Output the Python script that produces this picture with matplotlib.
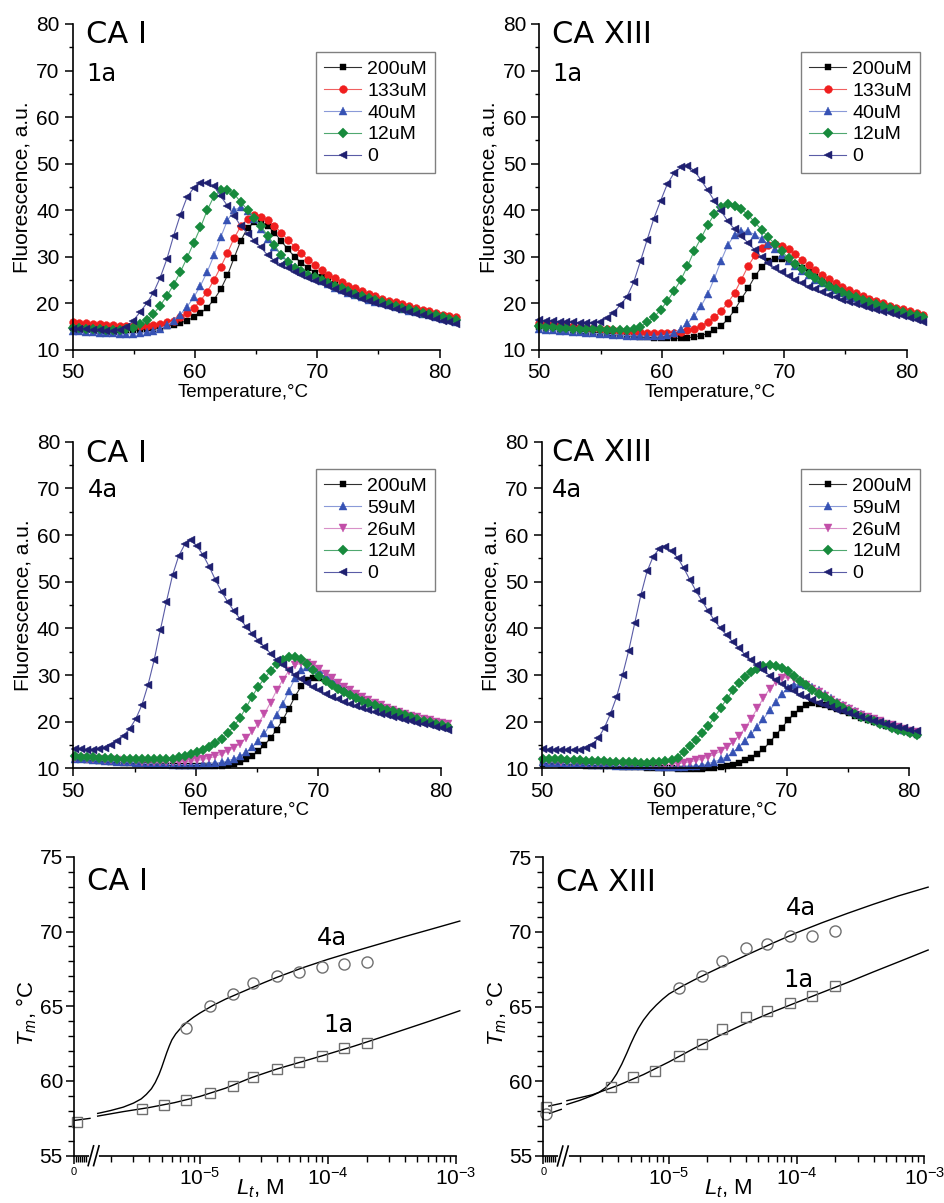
import matplotlib
matplotlib.use('Agg')
import matplotlib.pyplot as plt
import numpy as np
from matplotlib.ticker import FixedLocator, FixedFormatter, MultipleLocator, NullFormatter

plt.rcParams['font.family'] = ['Liberation Sans', 'DejaVu Sans']
plt.rcParams['mathtext.fontset'] = 'custom'
plt.rcParams['mathtext.rm'] = 'Liberation Sans'
plt.rcParams['mathtext.it'] = 'Liberation Sans:italic'

# ---------------- melting curves: temperature grids ----------------
temp_1a = [50.0, 50.55, 51.1, 51.65, 52.2, 52.75, 53.3, 53.85, 54.4, 54.95,
           55.5, 56.05, 56.6, 57.15, 57.7, 58.25, 58.8, 59.35, 59.9, 60.45,
           61.0, 61.55, 62.1, 62.65, 63.2, 63.75, 64.3, 64.85, 65.4, 65.95,
           66.5, 67.05, 67.6, 68.15, 68.7, 69.25, 69.8, 70.35, 70.9, 71.45,
           72.0, 72.55, 73.1, 73.65, 74.2, 74.75, 75.3, 75.85, 76.4, 76.95,
           77.5, 78.05, 78.6, 79.15, 79.7, 80.25, 80.8, 81.35]
temp_4a = [50.1, 50.6, 51.1, 51.6, 52.1, 52.6, 53.1, 53.6, 54.1, 54.6,
           55.1, 55.6, 56.1, 56.6, 57.1, 57.6, 58.1, 58.6, 59.1, 59.6,
           60.1, 60.6, 61.1, 61.6, 62.1, 62.6, 63.1, 63.6, 64.1, 64.6,
           65.1, 65.6, 66.1, 66.6, 67.1, 67.6, 68.1, 68.6, 69.1, 69.6,
           70.1, 70.6, 71.1, 71.6, 72.1, 72.6, 73.1, 73.6, 74.1, 74.6,
           75.1, 75.6, 76.1, 76.6, 77.1, 77.6, 78.1, 78.6, 79.1, 79.6,
           80.1, 80.6]

labels_1a = ['200uM', '133uM', '40uM', '12uM', '0']
labels_4a = ['200uM', '59uM', '26uM', '12uM', '0']

# CA I, compound 1a
ca1_1a_200 = [14.7, 14.6, 14.5, 14.4, 14.3, 14.3, 14.2, 14.2, 14.2, 14.2,
              14.3, 14.4, 14.6, 14.8, 15.1, 15.4, 15.8, 16.3, 17.0, 17.9,
              19.1, 20.8, 23.0, 26.0, 29.8, 33.5, 36.2, 37.4, 37.5, 36.6,
              35.2, 33.4, 31.6, 30.0, 28.7, 27.6, 26.6, 25.7, 24.9, 24.2,
              23.6, 23.0, 22.4, 21.9, 21.4, 20.9, 20.5, 20.1, 19.7, 19.3,
              18.9, 18.6, 18.2, 17.9, 17.6, 17.3, 17.0, 16.7]
ca1_1a_133 = [15.9, 15.8, 15.7, 15.6, 15.5, 15.4, 15.3, 15.2, 15.1, 15.1,
              15.1, 15.2, 15.4, 15.6, 15.9, 16.3, 17.0, 17.9, 19.0, 20.6,
              22.5, 25.0, 27.8, 30.8, 34.0, 36.6, 38.2, 38.9, 38.6, 37.8,
              36.7, 35.2, 33.6, 32.2, 30.8, 29.4, 28.2, 27.1, 26.2, 25.4,
              24.5, 23.8, 23.2, 22.6, 22.0, 21.5, 21.0, 20.6, 20.2, 19.8,
              19.4, 19.0, 18.6, 18.3, 17.9, 17.6, 17.3, 17.0]
ca1_1a_40 = [14.1, 14.0, 13.9, 13.8, 13.7, 13.6, 13.6, 13.5, 13.5, 13.5,
             13.6, 13.8, 14.1, 14.6, 15.3, 16.3, 17.6, 19.3, 21.3, 23.8,
             26.8, 30.3, 34.2, 37.8, 40.0, 40.7, 39.9, 38.1, 36.0, 33.9,
             32.0, 30.4, 29.0, 27.9, 27.0, 26.2, 25.5, 24.8, 24.1, 23.4,
             22.8, 22.3, 21.8, 21.3, 20.8, 20.4, 20.0, 19.6, 19.2, 18.8,
             18.4, 18.1, 17.7, 17.4, 17.0, 16.7, 16.4, 16.0]
ca1_1a_12 = [14.8, 14.7, 14.6, 14.5, 14.4, 14.3, 14.3, 14.3, 14.4, 14.8,
             15.5, 16.4, 17.7, 19.5, 21.6, 24.0, 26.7, 29.8, 33.0, 36.3,
             40.0, 43.0, 44.3, 44.4, 43.5, 41.7, 40.1, 38.4, 36.6, 34.5,
             32.5, 30.4, 28.8, 27.7, 26.9, 26.2, 25.6, 25.0, 24.4, 23.8,
             23.3, 22.7, 22.1, 21.6, 21.1, 20.7, 20.3, 19.9, 19.5, 19.1,
             18.7, 18.4, 18.0, 17.7, 17.4, 17.0, 16.7, 16.4]
ca1_1a_0 = [14.6, 14.5, 14.4, 14.3, 14.2, 14.1, 14.1, 14.3, 14.9, 16.3,
            18.1, 20.0, 22.3, 25.5, 29.5, 34.5, 39.0, 42.8, 44.8, 45.8,
            45.9, 45.2, 43.0, 41.0, 38.8, 36.6, 35.0, 33.5, 32.0, 30.3,
            29.2, 28.3, 27.5, 26.8, 26.1, 25.5, 24.9, 24.3, 23.7, 23.1,
            22.5, 22.0, 21.5, 21.0, 20.5, 20.1, 19.7, 19.3, 18.9, 18.5,
            18.1, 17.8, 17.4, 17.0, 16.7, 16.3, 16.0, 15.6]

# CA XIII, compound 1a
ca13_1a_200 = [15.0, 14.8, 14.7, 14.5, 14.4, 14.2, 14.1, 13.9, 13.8, 13.6,
               13.5, 13.3, 13.2, 13.1, 12.9, 12.8, 12.7, 12.6, 12.5, 12.5,
               12.5, 12.5, 12.6, 12.8, 13.1, 13.5, 14.2, 15.2, 16.6, 18.6,
               21.0, 23.2, 25.8, 27.8, 29.0, 29.6, 29.5, 29.1, 28.4, 27.6,
               26.8, 26.0, 25.2, 24.4, 23.7, 23.0, 22.4, 21.8, 21.2, 20.7,
               20.2, 19.7, 19.3, 18.8, 18.4, 18.0, 17.6, 17.2]
ca13_1a_133 = [15.7, 15.6, 15.5, 15.4, 15.2, 15.1, 15.0, 14.8, 14.7, 14.6,
               14.4, 14.3, 14.1, 14.0, 13.9, 13.8, 13.7, 13.6, 13.6, 13.6,
               13.7, 13.9, 14.2, 14.6, 15.2, 16.0, 17.0, 18.4, 20.1, 22.3,
               25.1, 28.0, 30.3, 31.8, 32.5, 32.7, 32.4, 31.6, 30.5, 29.3,
               28.2, 27.1, 26.1, 25.2, 24.3, 23.5, 22.8, 22.2, 21.6, 21.0,
               20.5, 20.0, 19.5, 19.1, 18.7, 18.3, 17.9, 17.6]
ca13_1a_40 = [14.4, 14.3, 14.2, 14.1, 14.0, 13.9, 13.8, 13.7, 13.6, 13.5,
              13.4, 13.3, 13.2, 13.1, 13.0, 13.0, 12.9, 12.9, 13.0, 13.2,
              13.7, 14.5, 15.7, 17.3, 19.4, 22.0, 25.4, 29.2, 32.6, 34.7,
              35.5, 35.5, 34.7, 33.8, 32.7, 31.6, 30.4, 29.2, 28.0, 27.0,
              26.0, 25.1, 24.3, 23.5, 22.8, 22.2, 21.6, 21.1, 20.6, 20.1,
              19.6, 19.2, 18.8, 18.4, 18.0, 17.6, 17.2, 16.8]
ca13_1a_12 = [15.1, 15.0, 14.9, 14.8, 14.7, 14.6, 14.6, 14.5, 14.4, 14.4,
              14.3, 14.2, 14.2, 14.2, 14.5, 15.0, 15.9, 17.0, 18.6, 20.5,
              22.7, 25.0, 28.0, 31.3, 34.0, 36.8, 39.2, 40.8, 41.3, 41.0,
              40.2, 39.0, 37.4, 35.8, 34.2, 32.7, 31.2, 29.7, 28.4, 27.3,
              26.3, 25.4, 24.6, 23.8, 23.1, 22.4, 21.8, 21.3, 20.8, 20.3,
              19.8, 19.4, 19.0, 18.6, 18.2, 17.8, 17.4, 17.0]
ca13_1a_0 = [16.4, 16.3, 16.2, 16.1, 16.0, 15.9, 15.8, 15.8, 15.8, 16.0,
             16.8, 18.0, 19.6, 21.4, 24.5, 29.0, 33.6, 38.2, 42.0, 45.6,
             48.0, 49.2, 49.6, 48.5, 46.5, 44.3, 42.0, 39.8, 37.6, 35.9,
             34.4, 33.0, 31.4, 29.9, 28.6, 27.6, 26.7, 25.9, 25.1, 24.3,
             23.6, 23.0, 22.4, 21.8, 21.3, 20.8, 20.3, 19.9, 19.4, 19.0,
             18.6, 18.2, 17.9, 17.5, 17.2, 16.8, 16.5, 16.1]

# CA I, compound 4a
ca1_4a_200 = [12.0, 11.9, 11.8, 11.7, 11.6, 11.5, 11.4, 11.3, 11.2, 11.1,
              11.0, 11.0, 10.9, 10.8, 10.8, 10.7, 10.7, 10.6, 10.6, 10.6,
              10.5, 10.5, 10.5, 10.6, 10.6, 10.8, 11.0, 11.4, 11.9, 12.7,
              13.7, 15.0, 16.5, 18.3, 20.4, 22.8, 25.4, 27.6, 28.9, 29.4,
              29.3, 28.8, 28.1, 27.4, 26.7, 26.0, 25.3, 24.7, 24.1, 23.5,
              23.0, 22.5, 22.0, 21.6, 21.2, 20.8, 20.4, 20.0, 19.7, 19.4,
              19.1, 18.8]
ca1_4a_59 = [12.1, 12.0, 11.9, 11.8, 11.7, 11.6, 11.5, 11.4, 11.3, 11.3,
             11.2, 11.1, 11.0, 11.0, 10.9, 10.9, 10.8, 10.8, 10.8, 10.8,
             10.8, 10.9, 11.0, 11.1, 11.3, 11.6, 12.0, 12.6, 13.4, 14.5,
             15.9, 17.5, 19.4, 21.5, 23.8, 26.6, 29.3, 31.0, 31.7, 31.6,
             31.0, 30.1, 29.1, 28.2, 27.3, 26.5, 25.7, 25.0, 24.4, 23.8,
             23.3, 22.8, 22.3, 21.9, 21.5, 21.1, 20.7, 20.4, 20.1, 19.8,
             19.5, 19.2]
ca1_4a_26 = [12.3, 12.2, 12.1, 12.0, 11.9, 11.8, 11.7, 11.7, 11.6, 11.5,
             11.5, 11.4, 11.4, 11.3, 11.3, 11.3, 11.3, 11.3, 11.4, 11.5,
             11.7, 11.9, 12.2, 12.6, 13.1, 13.7, 14.4, 15.3, 16.5, 17.9,
             19.6, 21.7, 24.1, 26.7, 29.0, 30.9, 32.1, 32.6, 32.6, 32.1,
             31.3, 30.3, 29.3, 28.4, 27.5, 26.7, 25.9, 25.2, 24.6, 24.0,
             23.5, 23.0, 22.5, 22.1, 21.7, 21.3, 20.9, 20.6, 20.3, 20.0,
             19.7, 19.4]
ca1_4a_12 = [12.6, 12.5, 12.4, 12.4, 12.3, 12.2, 12.2, 12.1, 12.1, 12.0,
             12.0, 11.9, 11.9, 11.9, 11.9, 12.0, 12.1, 12.4, 12.7, 13.1,
             13.5, 14.0, 14.6, 15.4, 16.3, 17.5, 19.0, 20.8, 23.0, 25.4,
             27.5, 29.3, 30.9, 32.3, 33.3, 33.8, 33.9, 33.4, 32.4, 31.1,
             29.9, 28.8, 27.9, 27.1, 26.4, 25.7, 25.1, 24.5, 24.0, 23.5,
             23.0, 22.6, 22.2, 21.8, 21.4, 21.0, 20.6, 20.2, 19.9, 19.5,
             19.2, 18.8]
ca1_4a_0 = [14.1, 14.1, 14.0, 14.0, 14.1, 14.3, 14.9, 15.8, 17.0, 18.5,
            20.6, 23.6, 27.9, 33.2, 39.6, 45.7, 51.4, 55.5, 58.0, 58.9,
            57.6, 55.7, 53.2, 50.4, 47.9, 45.7, 43.8, 42.1, 40.4, 38.9,
            37.4, 36.1, 34.6, 33.3, 32.1, 31.0, 30.0, 29.1, 28.2, 27.4,
            26.7, 26.0, 25.4, 24.8, 24.3, 23.8, 23.3, 22.9, 22.5, 22.1,
            21.7, 21.4, 21.1, 20.7, 20.4, 20.1, 19.8, 19.5, 19.2, 18.9,
            18.6, 18.3]

# CA XIII, compound 4a
ca13_4a_200 = [11.0, 10.9, 10.9, 10.8, 10.8, 10.7, 10.7, 10.6, 10.6, 10.5,
               10.5, 10.4, 10.4, 10.3, 10.3, 10.2, 10.2, 10.1, 10.1, 10.0,
               10.0, 10.0, 9.9, 9.9, 9.9, 9.9, 9.9, 10.0, 10.1, 10.3,
               10.5, 10.8, 11.2, 11.7, 12.3, 13.1, 14.1, 15.6, 17.1, 18.7,
               20.3, 21.7, 22.8, 23.5, 23.9, 23.8, 23.5, 23.1, 22.7, 22.3,
               21.8, 21.3, 20.8, 20.3, 19.9, 19.5, 19.1, 18.7, 18.3, 17.9,
               17.5, 17.1]
ca13_4a_59 = [11.3, 11.2, 11.2, 11.1, 11.0, 11.0, 10.9, 10.9, 10.8, 10.8,
              10.7, 10.7, 10.6, 10.6, 10.5, 10.5, 10.4, 10.4, 10.4, 10.3,
              10.3, 10.3, 10.3, 10.3, 10.4, 10.5, 10.7, 11.0, 11.4, 11.9,
              12.5, 13.4, 14.6, 15.9, 17.3, 18.9, 20.6, 22.4, 24.2, 25.9,
              27.2, 27.9, 28.1, 27.9, 27.4, 26.7, 25.9, 25.1, 24.3, 23.6,
              22.9, 22.2, 21.6, 21.0, 20.5, 20.0, 19.5, 19.1, 18.7, 18.3,
              17.9, 17.5]
ca13_4a_26 = [11.6, 11.5, 11.5, 11.4, 11.4, 11.3, 11.3, 11.2, 11.2, 11.1,
              11.1, 11.0, 11.0, 10.9, 10.9, 10.9, 10.8, 10.8, 10.8, 10.8,
              10.8, 10.9, 11.0, 11.2, 11.4, 11.7, 12.0, 12.5, 13.0, 13.7,
              14.5, 15.6, 17.0, 18.6, 20.6, 22.9, 25.1, 27.0, 28.5, 29.3,
              29.5, 29.2, 28.6, 27.9, 27.1, 26.3, 25.5, 24.7, 24.0, 23.3,
              22.7, 22.1, 21.5, 21.0, 20.5, 20.1, 19.6, 19.2, 18.8, 18.5,
              18.1, 17.8]
ca13_4a_12 = [12.1, 12.0, 12.0, 11.9, 11.8, 11.8, 11.7, 11.6, 11.6, 11.5,
              11.5, 11.4, 11.4, 11.3, 11.3, 11.3, 11.2, 11.2, 11.3, 11.4,
              11.6, 11.8, 12.3, 13.6, 14.8, 16.1, 17.5, 19.1, 20.9, 22.9,
              24.9, 26.7, 28.3, 29.6, 30.6, 31.4, 31.9, 32.1, 32.0, 31.6,
              30.8, 29.8, 28.8, 27.8, 26.9, 26.0, 25.2, 24.4, 23.7, 23.0,
              22.3, 21.7, 21.1, 20.6, 20.1, 19.6, 19.2, 18.7, 18.3, 17.9,
              17.5, 17.1]
ca13_4a_0 = [14.1, 14.0, 14.0, 13.9, 13.9, 13.9, 14.0, 14.3, 15.0, 16.4,
             18.6, 21.6, 25.2, 30.0, 35.2, 41.2, 47.2, 52.2, 55.4, 57.1,
             57.4, 56.6, 55.1, 52.9, 50.4, 48.0, 45.8, 43.7, 41.7, 40.0,
             38.5, 37.1, 35.7, 34.4, 33.2, 32.1, 31.0, 29.9, 28.9, 28.0,
             27.2, 26.5, 25.8, 25.2, 24.6, 24.1, 23.6, 23.1, 22.6, 22.2,
             21.8, 21.4, 21.0, 20.6, 20.2, 19.9, 19.6, 19.2, 18.9, 18.6,
             18.3, 18.0]

# ---------------- Tm versus ligand concentration ----------------
conc = [0, 3.5e-6, 5.2e-6, 7.8e-6, 1.2e-5, 1.8e-5, 2.6e-5, 4.0e-5, 5.9e-5, 8.9e-5, 1.33e-4, 2.0e-4]
nan = np.nan
tm_ca1_1a = [57.27, 58.12, 58.39, 58.72, 59.17, 59.66, 60.28, 60.78, 61.25, 61.69, 62.18, 62.52]
tm_ca1_4a = [nan, nan, nan, 63.52, 65.01, 65.79, 66.53, 67.02, 67.31, 67.60, 67.80, 67.98]
tm_ca13_1a = [58.30, 59.59, 60.31, 60.71, 61.71, 62.47, 63.52, 64.28, 64.68, 65.24, 65.71, 66.40]
tm_ca13_4a = [57.81, nan, nan, nan, 66.23, 67.07, 68.05, 68.91, 69.17, 69.73, 69.75, 70.08]

# fitted curves, log10 of concentration and Tm
fit_ca1_4a_logc = [-5.80, -5.70, -5.60, -5.52, -5.46, -5.42, -5.38, -5.35, -5.32, -5.30, -5.28,
                   -5.26, -5.24, -5.22, -5.19, -5.15, -5.10, -5.05, -5.00, -4.90, -4.80, -4.70,
                   -4.60, -4.50, -4.40, -4.30, -4.20, -4.00, -3.80, -3.60, -3.40, -3.20, -2.97]
fit_ca1_4a_tm = [57.83, 58.02, 58.25, 58.52, 58.80, 59.10, 59.48, 59.90, 60.45, 60.90, 61.40,
                 61.90, 62.35, 62.75, 63.15, 63.55, 63.95, 64.27, 64.55, 65.05, 65.48, 65.85,
                 66.22, 66.58, 66.93, 67.25, 67.57, 68.14, 68.66, 69.16, 69.66, 70.14, 70.70]
fit_ca1_1a_logc = [-5.80, -5.60, -5.40, -5.20, -5.00, -4.80, -4.60, -4.40, -4.20, -4.00,
                   -3.80, -3.60, -3.40, -3.20, -2.97]
fit_ca1_1a_tm = [57.65, 57.95, 58.22, 58.55, 58.97, 59.52, 60.22, 60.80, 61.30, 61.80,
                 62.32, 62.88, 63.45, 64.02, 64.70]
fit_ca1_zero_logc = [-5.984, -5.86]
fit_ca1_zero_tm = [57.36, 57.50]

fit_ca13_4a_logc = [-5.80, -5.70, -5.60, -5.55, -5.50, -5.45, -5.41, -5.37, -5.33, -5.30,
                    -5.27, -5.24, -5.20, -5.15, -5.10, -5.05, -5.00, -4.90, -4.80, -4.70,
                    -4.60, -4.50, -4.40, -4.20, -4.00, -3.80, -3.60, -3.40, -3.20, -2.97]
fit_ca13_4a_tm = [58.45, 58.72, 59.05, 59.25, 59.55, 59.98, 60.50, 61.15, 61.90, 62.50,
                  63.05, 63.55, 64.10, 64.65, 65.10, 65.50, 65.85, 66.35, 66.80, 67.22,
                  67.63, 68.02, 68.42, 69.20, 69.95, 70.62, 71.25, 71.85, 72.42, 73.00]
fit_ca13_1a_logc = [-5.80, -5.60, -5.40, -5.20, -5.00, -4.80, -4.60, -4.40, -4.20, -4.00,
                    -3.80, -3.60, -3.40, -3.20, -2.97]
fit_ca13_1a_tm = [58.70, 59.10, 59.72, 60.45, 61.30, 62.22, 63.08, 63.88, 64.60, 65.28,
                  65.95, 66.62, 67.32, 68.00, 68.79]
fit_ca13_zero_1a_logc = [-5.941, -5.844]
fit_ca13_zero_1a_tm = [58.34, 58.52]
fit_ca13_zero_4a_logc = [-5.936, -5.844]
fit_ca13_zero_4a_tm = [57.85, 58.12]

# ---------------- styles ----------------
styles = {
    '200uM': dict(marker='s', ms=4.8, mc='#000000', lc='#303030'),
    '133uM': dict(marker='o', ms=5.6, mc='#f01e1e', lc='#f06060'),
    '40uM': dict(marker='^', ms=6.0, mc='#3652b4', lc='#8a9ad8'),
    '59uM': dict(marker='^', ms=6.0, mc='#3652b4', lc='#8a9ad8'),
    '26uM': dict(marker='v', ms=6.0, mc='#c24ea8', lc='#d890c8'),
    '12uM': dict(marker='D', ms=4.6, mc='#178a3c', lc='#50a870'),
    '0': dict(marker='<', ms=6.0, mc='#1f2070', lc='#5a5ca6'),
}
TICK_FS = 15
CA_FONT = 'DejaVu Sans'
ZERO_POS = 10 ** -5.965
XLEFT = 10 ** -5.985


def melt_panel(ax, temps, curves, labels, title, tag, leg_anchor, title_pos, tag_pos):
    for y, lab in zip(curves, labels):
        st = styles[lab]
        ax.plot(temps, y, color=st['lc'], lw=0.8, marker=st['marker'], ms=st['ms'],
                mfc=st['mc'], mec=st['mc'], mew=0.3, label=lab, clip_on=False)
    ax.set_xlim(50, 82)
    ax.set_ylim(10, 80)
    ax.xaxis.set_major_locator(FixedLocator([50, 60, 70, 80]))
    ax.xaxis.set_minor_locator(FixedLocator([55, 65, 75]))
    ax.yaxis.set_major_locator(MultipleLocator(10))
    ax.yaxis.set_minor_locator(MultipleLocator(5))
    ax.spines['top'].set_visible(False)
    ax.spines['right'].set_visible(False)
    ax.spines['bottom'].set_bounds(50, 80)
    for s in ('left', 'bottom'):
        ax.spines[s].set_linewidth(1.2)
    ax.tick_params(which='major', direction='out', length=5.5, width=1.1, labelsize=TICK_FS, pad=4)
    ax.tick_params(which='minor', direction='out', length=3, width=1.0)
    ax.set_xlabel('Temperature,°C', fontsize=13.5)
    ax.xaxis.set_label_coords(0.436, -0.104)
    ax.set_ylabel('Fluorescence, a.u.', fontsize=15)
    ax.yaxis.set_label_coords(-0.105, 0.5)
    leg = ax.legend(loc='upper right', bbox_to_anchor=leg_anchor, borderaxespad=0,
                    fontsize=14, frameon=True, fancybox=False, framealpha=1,
                    edgecolor='#808080', handlelength=1.9, handletextpad=0.3,
                    labelspacing=0.22, borderpad=0.42, numpoints=1)
    leg.get_frame().set_linewidth(1.0)
    ax.text(title_pos[0], title_pos[1], title, transform=ax.transAxes, fontsize=22,
            family=CA_FONT, ha='left', va='baseline')
    ax.text(tag_pos[0], tag_pos[1], tag, transform=ax.transAxes, fontsize=17.5,
            family=CA_FONT, ha='left', va='baseline')


def tm_panel(ax, tm_1a, tm_4a, fits, title, tags):
    x = np.array([ZERO_POS if c == 0 else c for c in conc])
    for logc, tm in fits:
        ax.plot(10 ** np.array(logc), tm, color='k', lw=1.0)
    ax.plot(x, tm_1a, ls='none', marker='s', ms=7, mfc='none', mec='#707070', mew=1.0, clip_on=False)
    ax.plot(x, tm_4a, ls='none', marker='o', ms=8, mfc='none', mec='#707070', mew=1.0, clip_on=False)
    ax.set_xscale('log')
    ax.set_xlim(XLEFT, 10 ** -2.96)
    ax.set_ylim(55, 75)
    ax.xaxis.set_major_locator(FixedLocator([XLEFT, 1e-5, 1e-4, 1e-3]))
    ax.xaxis.set_major_formatter(FixedFormatter(['0', r'$10^{-5}$', r'$10^{-4}$', r'$10^{-3}$']))
    minors = [k * 10.0 ** e for e in (-6, -5, -4) for k in range(2, 10)]
    minors += [10 ** v for v in (-5.97, -5.955, -5.94, -5.925, -5.91, -5.895)]
    ax.xaxis.set_minor_locator(FixedLocator(minors))
    ax.xaxis.set_minor_formatter(NullFormatter())
    ax.yaxis.set_major_locator(MultipleLocator(5))
    ax.yaxis.set_minor_locator(MultipleLocator(1))
    ax.spines['top'].set_visible(False)
    ax.spines['right'].set_visible(False)
    ax.spines['bottom'].set_bounds(XLEFT, 1e-3)
    for s in ('left', 'bottom'):
        ax.spines[s].set_linewidth(1.2)
    ax.tick_params(which='major', direction='out', length=6, width=1.1, labelsize=TICK_FS, pad=2)
    ax.tick_params(which='minor', direction='out', length=4, width=1.0)
    ax.get_xticklabels()[0].set_fontsize(8)
    # axis break
    ax.plot([0.0436, 0.0576], [0, 0], transform=ax.transAxes, color='white', lw=3.5,
            clip_on=False, zorder=5)
    for xc in (0.0436, 0.0576):
        ax.plot([xc - 0.007, xc + 0.007], [-0.033, 0.033], transform=ax.transAxes,
                color='k', lw=1.2, clip_on=False, zorder=6)
    ax.set_xlabel(r'$L_t$, M', fontsize=16)
    ax.xaxis.set_label_coords(0.48, -0.072)
    ax.set_ylabel(r'$T_m$, °C', fontsize=16)
    ax.yaxis.set_label_coords(-0.09, 0.477)
    ax.text(0.034, 0.888, title, transform=ax.transAxes, fontsize=22, family=CA_FONT,
            ha='left', va='baseline')
    for txt, xy in tags:
        ax.text(xy[0], xy[1], txt, fontsize=17.5, family=CA_FONT, ha='left', va='baseline')


fig = plt.figure(figsize=(9.45, 12.03), dpi=100)

ax1 = fig.add_axes([0.0769, 0.7091, 0.4142, 0.2710])
melt_panel(ax1, temp_1a, [ca1_1a_200, ca1_1a_133, ca1_1a_40, ca1_1a_12, ca1_1a_0], labels_1a,
           'CA I', '1a', (0.9257, 0.914), (0.034, 0.941), (0.036, 0.826))

ax2 = fig.add_axes([0.5707, 0.7091, 0.4147, 0.2710])
melt_panel(ax2, temp_1a, [ca13_1a_200, ca13_1a_133, ca13_1a_40, ca13_1a_12, ca13_1a_0], labels_1a,
           'CA XIII', '1a', (0.9714, 0.914), (0.032, 0.941), (0.034, 0.826))

ax3 = fig.add_axes([0.0776, 0.3613, 0.4147, 0.2715])
melt_panel(ax3, temp_4a, [ca1_4a_200, ca1_4a_59, ca1_4a_26, ca1_4a_12, ca1_4a_0], labels_4a,
           'CA I', '4a', (0.923, 0.9164), (0.032, 0.939), (0.036, 0.832))

ax4 = fig.add_axes([0.5732, 0.3613, 0.4149, 0.2715])
melt_panel(ax4, temp_4a, [ca13_4a_200, ca13_4a_59, ca13_4a_26, ca13_4a_12, ca13_4a_0], labels_4a,
           'CA XIII', '4a', (0.965, 0.9164), (0.026, 0.942), (0.026, 0.832))

ax5 = fig.add_axes([0.0783, 0.0393, 0.4096, 0.2485])
tm_panel(ax5, tm_ca1_1a, tm_ca1_4a,
         [(fit_ca1_4a_logc, fit_ca1_4a_tm), (fit_ca1_1a_logc, fit_ca1_1a_tm),
          (fit_ca1_zero_logc, fit_ca1_zero_tm)],
         'CA I', [('4a', (10 ** -4.088, 69.09)), ('1a', (10 ** -4.036, 63.29))])

ax6 = fig.add_axes([0.5749, 0.0391, 0.4086, 0.2483])
tm_panel(ax6, tm_ca13_1a, tm_ca13_4a,
         [(fit_ca13_4a_logc, fit_ca13_4a_tm), (fit_ca13_1a_logc, fit_ca13_1a_tm),
          (fit_ca13_zero_1a_logc, fit_ca13_zero_1a_tm), (fit_ca13_zero_4a_logc, fit_ca13_zero_4a_tm)],
         'CA XIII', [('4a', (10 ** -4.084, 71.14)), ('1a', (10 ** -4.105, 66.33))])

fig.savefig('out.png', dpi=100, facecolor='white')
